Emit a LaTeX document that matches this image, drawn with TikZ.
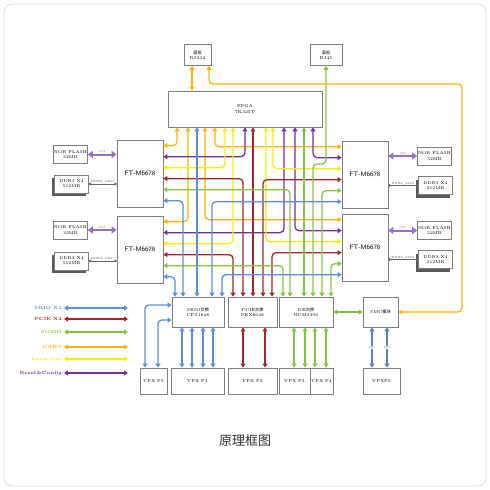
\documentclass[tikz,border=0pt]{standalone}
\usepackage{fontspec}
\newfontfamily\cjk{Noto Sans CJK SC}
\usetikzlibrary{arrows.meta,shadows}
\definecolor{srioc}{HTML}{5B8FDB}
\definecolor{pciec}{HTML}{A0282A}
\definecolor{sgmc}{HTML}{86C440}
\definecolor{uartc}{HTML}{FFB400}
\definecolor{lbusc}{HTML}{F5F000}
\definecolor{rstc}{HTML}{7030A0}
\definecolor{spic}{HTML}{9470C8}
\definecolor{i2cc}{HTML}{5A7FC0}
\definecolor{boxc}{HTML}{7F7F7F}
\definecolor{framec}{HTML}{D9D9D9}
\tikzset{
	blk/.style={draw=boxc,line width=0.7pt,fill=white,inner sep=0pt,align=center,font=\fontsize{4.2}{5.2}\selectfont},
	dsp/.style={blk,minimum width=46pt,minimum height=67pt,font=\sffamily\fontsize{6.5}{7}\selectfont},
	mem/.style={blk,minimum width=34pt,minimum height=18pt},
	ddr/.style={mem,drop shadow={shadow xshift=-3pt,shadow yshift=-3pt,fill=black!65,opacity=1}},
	bus/.style={line width=1.3pt,rounded corners=4pt,{Triangle[length=4pt,width=5pt]}-{Triangle[length=4pt,width=5pt]}},
	srio/.style={bus,color=srioc},
	pcie/.style={bus,color=pciec},
	sgm/.style={bus,color=sgmc},
	uart/.style={bus,color=uartc},
	lbus/.style={bus,color=lbusc},
	rst/.style={bus,color=rstc},
	i2c/.style={bus,color=i2cc},
	spi/.style={line width=2pt,color=spic,{Triangle[length=5pt,width=7pt]}-{Triangle[length=5pt,width=7pt]}},
	ddrl/.style={line width=0.8pt,color=black!60,{Circle[open,fill=white,length=2.5pt]}-{Circle[open,fill=white,length=2.5pt]}},
	lbl/.style={font=\fontsize{3}{3.5}\selectfont,inner sep=0.5pt},
	lgd/.style={anchor=east,font=\bfseries\fontsize{4.6}{5}\selectfont,inner sep=0pt}
}
\begin{document}
\begin{tikzpicture}[x=1pt,y=-1pt]
	\useasboundingbox (0,0) rectangle (490,490);
	\draw[framec,line width=0.8pt,rounded corners=8pt] (4,4) rectangle (486,486);

	\node[blk,minimum width=27pt,minimum height=21pt] (pnl1) at (197.5,55) {{\cjk 面板}\\RS232};
	\node[blk,minimum width=32pt,minimum height=21pt] (pnl2) at (326,55) {{\cjk 面板}\\RJ45};
	\node[blk,minimum width=154pt,minimum height=36pt] (fpga) at (245,109) {FPGA\\7K325T};

	\node[dsp] (dA) at (140,173.5) {FT-M6678};
	\node[dsp] (dB) at (140,249.5) {FT-M6678};
	\node[dsp] (dC) at (365,174.5) {FT-M6678};
	\node[dsp] (dD) at (365,247.5) {FT-M6678};

	\node[mem] (norA) at (70.5,154.5) {NOR FLASH\\32MB};
	\node[ddr] (ddrA) at (71.5,184) {DDR3 X4\\512MB};
	\node[mem] (norB) at (70.5,230) {NOR FLASH\\32MB};
	\node[ddr] (ddrB) at (71.5,261) {DDR3 X4\\512MB};
	\node[mem] (norC) at (434.5,156) {NOR FLASH\\32MB};
	\node[ddr] (ddrC) at (435.5,185.5) {DDR3 X4\\512MB};
	\node[mem] (norD) at (434.5,230.5) {NOR FLASH\\32MB};
	\node[ddr] (ddrD) at (435.5,259.5) {DDR3 X4\\512MB};

	\node[blk,minimum width=52pt,minimum height=30pt] (sw1) at (198,312) {SRIO{\cjk 交换}\\CPS1848};
	\node[blk,minimum width=49pt,minimum height=30pt] (sw2) at (252.5,312) {PCIE{\cjk 交换}\\PEX8648};
	\node[blk,minimum width=54pt,minimum height=30pt] (sw3) at (306,312) {GE{\cjk 交换}\\BCM5396};
	\node[blk,minimum width=35pt,minimum height=30pt] (smc) at (380.5,312) {SMC{\cjk 模块}};

	\node[blk,minimum width=27pt,minimum height=26pt] (vp5) at (153.5,381) {VPX P5};
	\node[blk,minimum width=53pt,minimum height=26pt] (vp1) at (197.5,381) {VPX P1};
	\node[blk,minimum width=49pt,minimum height=26pt] (vp2) at (252.5,381) {VPX P2};
	\node[blk,minimum width=31pt,minimum height=26pt] (vp3) at (294.5,381) {VPX P3};
	\node[blk,minimum width=23pt,minimum height=26pt] (vp4) at (321.5,381) {VPX P4};
	\node[blk,minimum width=37pt,minimum height=26pt] (vp0) at (381.5,381) {VPXP0};

	\foreach \d/\s in {dA/east,dB/east,dC/west,dD/west}
		\foreach \i in {1,...,6}
			\coordinate (\d-\i) at ([yshift={-(6+11*(\i-1))*1pt}]\d.north \s);

	% flash and memory
	\foreach \m/\d in {norA/dA,norB/dB} {
		\draw[spi] (\m.east) -- (\m.east -| \d.west) node[lbl,midway,above,text=spic] {SPI};
	}
	\foreach \m/\d in {norC/dC,norD/dD} {
		\draw[spi] (\m.west) -- (\m.west -| \d.east) node[lbl,midway,above,text=spic] {SPI};
	}
	\foreach \m/\d in {ddrA/dA,ddrB/dB}
		\draw[ddrl] (\m.east) -- (\m.east -| \d.west) node[lbl,midway,above,text=black!70] {DDR3\_64bit};
	\foreach \m/\d in {ddrC/dC,ddrD/dD}
		\draw[ddrl] (\m.west) -- (\m.west -| \d.east) node[lbl,midway,above,text=black!70] {DDR3\_64bit};

	% FPGA to DSP
	\draw[uart] (177,0 |- fpga.south) |- (dA-1);
	\draw[uart] (188,0 |- fpga.south) |- (dB-1);
	\draw[uart] (215,0 |- fpga.south) |- (dC-1);
	\draw[uart] (205,0 |- fpga.south) |- (dD-1);
	\draw[rst] (245,0 |- fpga.south) |- (dA-2);
	\draw[rst] (284,0 |- fpga.south) |- (dB-2);
	\draw[rst] (313,0 |- fpga.south) |- (dC-2);
	\draw[rst] (295,0 |- fpga.south) |- (dD-2);
	\draw[lbus] (225,0 |- fpga.south) |- (dA-3);
	\draw[lbus] (233,0 |- fpga.south) |- (dB-3);
	\draw[lbus] (273,0 |- fpga.south) |- (dC-3);
	\draw[lbus] (266,0 |- fpga.south) |- (dD-3);

	% DSP to switches
	\draw[pcie] (dA-4) -| (243,0 |- sw2.north);
	\draw[pcie] (dB-4) -| (233,0 |- sw2.north);
	\draw[pcie] (dC-4) -| (263,0 |- sw2.north);
	\draw[pcie] (dD-4) -| (272,0 |- sw2.north);
	\draw[pcie] (253,0 |- fpga.south) -- (253,0 |- sw2.north);
	\draw[sgm] (dA-5) -| (290,0 |- sw3.north);
	\draw[sgm] (dB-5) -| (283,0 |- sw3.north);
	\draw[sgm] (dC-5) -| (322,0 |- sw3.north);
	\draw[sgm] (dD-5) -| (331,0 |- sw3.north);
	\draw[sgm] (304,0 |- fpga.south) -- (304,0 |- sw3.north);
	\draw[sgm] (pnl2.south) -- (pnl2.south |- 0,164) -| (313,0 |- sw3.north);
	\draw[srio] (dA-6) -| (183,0 |- sw1.north);
	\draw[srio] (dB-6) -| (175,0 |- sw1.north);
	\draw[srio] (dC-6) -| (212,0 |- sw1.north);
	\draw[srio] (dD-6) -| (222,0 |- sw1.north);
	\draw[srio] (197,0 |- fpga.south) -- (197,0 |- sw1.north);

	% panel and SMC
	\draw[uart] (192,0 |- pnl1.south) -- (192,0 |- fpga.north);
	\draw[uart] (209,0 |- pnl1.south) |- (462,84) |- (smc.east);
	\draw[sgm] (sw3.east) -- (smc.west);

	% switches to VPX
	\draw[srio] (sw1.west |- 0,305) -| (145,0 |- vp5.north);
	\draw[srio] (sw1.west |- 0,320) -| (158,0 |- vp5.north);
	\foreach \x in {182,192,203,213}
		\draw[srio] (\x,0 |- sw1.south) -- (\x,0 |- vp1.north);
	\foreach \x in {243,265}
		\draw[pcie] (\x,0 |- sw2.south) -- (\x,0 |- vp2.north);
	\foreach \x in {294,305}
		\draw[sgm] (\x,0 |- sw3.south) -- (\x,0 |- vp3.north);
	\foreach \x in {315,326}
		\draw[sgm] (\x,0 |- sw3.south) -- (\x,0 |- vp4.north);
	\foreach \x in {372,387}
		\draw[i2c] (\x,0 |- smc.south) -- (\x,0 |- vp0.north) node[lbl,midway,fill=white,text=i2cc] {I2C};

	% legend
	\node[lgd,text=srioc] (lg1) at (62,308) {SRIO X4};
	\node[lgd,text=pciec] (lg2) at (62,319) {PCIE X4};
	\node[lgd,text=sgmc] (lg3) at (62,332) {SGMII};
	\node[lgd,text=uartc] (lg4) at (62,347) {UART};
	\node[lgd,text=lbusc] (lg5) at (62,359) {Local Bus};
	\node[lgd,text=rstc] (lg6) at (62,373) {Reset\&Config};
	\foreach \n/\s in {lg1/srio,lg2/pcie,lg3/sgm,lg4/uart,lg5/lbus,lg6/rst}
		\draw[\s] ([xshift=2pt]\n.east) -- ++(64,0);

	\node[font=\cjk\fontsize{13}{14}\selectfont,text=black!80] (cap) at (245,441) {原理框图};
\end{tikzpicture}
\end{document}
